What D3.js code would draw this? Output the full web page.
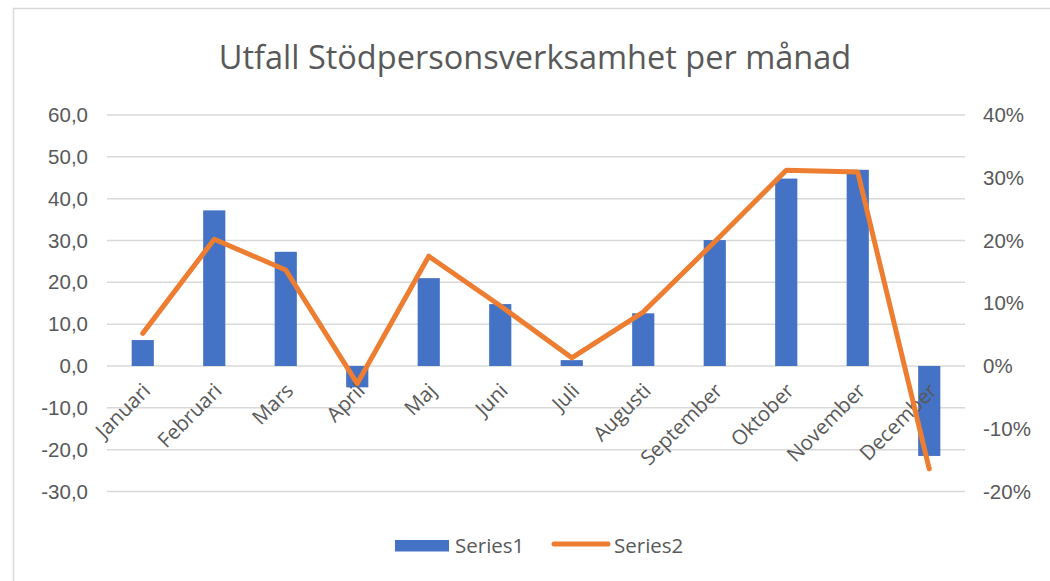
<!DOCTYPE html>
<html>
<head>
<meta charset="utf-8">
<script src="https://cdn.jsdelivr.net/npm/d3@7"></script>
<style>
  html, body { margin: 0; padding: 0; background: #fff; }
  svg { display: block; font-family: "Open Sans", "DejaVu Sans", sans-serif; }
</style>
</head>
<body>
<svg id="chart" width="1050" height="581"></svg>
<script>
const months = ["Januari","Februari","Mars","April","Maj","Juni","Juli","Augusti","September","Oktober","November","December"];
const series1 = [6.2, 37.2, 27.3, -5.1, 21.0, 14.8, 1.4, 12.6, 30.1, 44.8, 46.9, -21.5];
const series2 = [0.052, 0.202, 0.153, -0.028, 0.175, 0.096, 0.013, 0.086, 0.198, 0.312, 0.309, -0.164];
const leftTicks = [60, 50, 40, 30, 20, 10, 0, -10, -20, -30];
const rightTicks = [0.4, 0.3, 0.2, 0.1, 0, -0.1, -0.2];
const seriesNames = ["Series1", "Series2"];
const title = "Utfall Stödpersonsverksamhet per månad";

const W = 1050, H = 581;
const plot = { left: 107, right: 965, top: 115, bottom: 491.5 };
const blue = "#4472C4", orange = "#ED7D31", textCol = "#595959", gridCol = "#d9d9d9";
const fs = 20.5;

const svg = d3.select("#chart");
svg.append("rect").attr("x", 0).attr("y", 0).attr("width", W).attr("height", H).attr("fill", "#fff");
svg.append("rect").attr("x", 13.5).attr("y", 8.5).attr("width", W + 20).attr("height", H + 20)
  .attr("fill", "none").attr("stroke", gridCol).attr("stroke-width", 1.5);

const x = d3.scaleBand().domain(months).range([plot.left, plot.right]).paddingInner(0.69).paddingOuter(0.345);
const yL = d3.scaleLinear().domain([-30, 60]).range([plot.bottom, plot.top]);
const yR = d3.scaleLinear().domain([-0.2, 0.4]).range([plot.bottom, plot.top]);

// Gridlines
svg.append("g").selectAll("line").data(leftTicks).join("line")
  .attr("x1", plot.left).attr("x2", plot.right)
  .attr("y1", d => yL(d)).attr("y2", d => yL(d))
  .attr("stroke", gridCol).attr("stroke-width", 1.5);

// Left axis
const fmtL = v => d3.format(".1f")(v).replace(".", ",").replace("−", "-");
const axL = svg.append("g").attr("transform", `translate(${plot.left - 19},0)`)
  .call(d3.axisLeft(yL).tickValues(leftTicks).tickFormat(fmtL).tickSize(0).tickPadding(0));
axL.select(".domain").remove();
axL.selectAll("text").attr("font-size", fs).attr("fill", textCol).attr("font-family", null);

// Right axis
const fmtR = v => d3.format(".0%")(v).replace("−", "-");
const axR = svg.append("g").attr("transform", `translate(${plot.right + 18},0)`)
  .call(d3.axisRight(yR).tickValues(rightTicks).tickFormat(fmtR).tickSize(0).tickPadding(0));
axR.select(".domain").remove();
axR.selectAll("text").attr("font-size", fs).attr("fill", textCol).attr("font-family", null);

// Bars
svg.append("g").selectAll("rect").data(months).join("rect")
  .attr("x", d => x(d))
  .attr("width", x.bandwidth())
  .attr("y", (d, i) => Math.min(yL(series1[i]), yL(0)))
  .attr("height", (d, i) => Math.abs(yL(series1[i]) - yL(0)))
  .attr("fill", blue);

// X labels
svg.append("g").selectAll("text").data(months).join("text")
  .attr("transform", d => `translate(${x(d) + x.bandwidth() / 2 + 9},392) rotate(-45)`)
  .attr("text-anchor", "end")
  .attr("font-size", fs).attr("fill", textCol)
  .text(d => d);

// Line
const line = d3.line().x((d, i) => x(months[i]) + x.bandwidth() / 2).y(d => yR(d));
svg.append("path").datum(series2).attr("d", line)
  .attr("fill", "none").attr("stroke", orange).attr("stroke-width", 5)
  .attr("stroke-linejoin", "round").attr("stroke-linecap", "round");

// Title
svg.append("text").attr("x", 535).attr("y", 69).attr("text-anchor", "middle")
  .attr("font-size", 32.5).attr("fill", textCol).text(title);

// Legend
const lg = svg.append("g");
lg.append("rect").attr("x", 395).attr("y", 540).attr("width", 54).attr("height", 11.5).attr("fill", blue);
lg.append("text").attr("x", 455).attr("y", 553).attr("font-size", fs).attr("fill", textCol).text(seriesNames[0]);
lg.append("line").attr("x1", 554).attr("x2", 608).attr("y1", 544).attr("y2", 544)
  .attr("stroke", orange).attr("stroke-width", 5).attr("stroke-linecap", "round");
lg.append("text").attr("x", 614).attr("y", 553).attr("font-size", fs).attr("fill", textCol).text(seriesNames[1]);
</script>
</body>
</html>
